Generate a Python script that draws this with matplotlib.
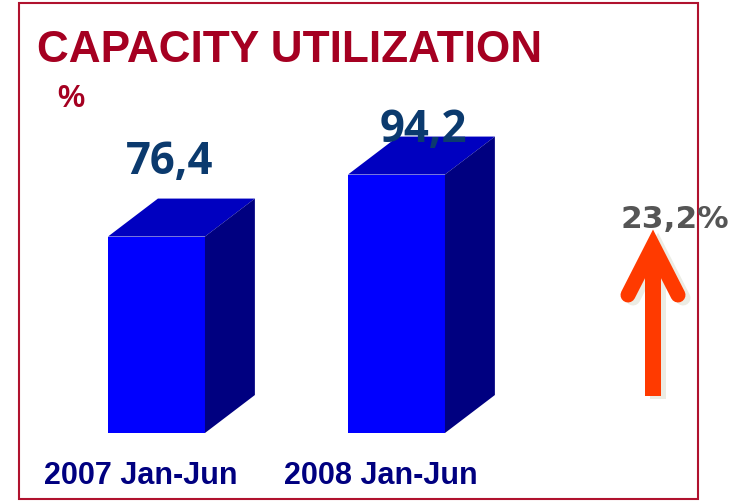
import matplotlib

matplotlib.use("Agg")
import matplotlib.pyplot as plt
from matplotlib.patches import Polygon, Rectangle

# data
periods = ["2007 Jan-Jun", "2008 Jan-Jun"]
utilization = [76.4, 94.2]
value_labels = ["76,4", "94,2"]
growth_label = "23,2%"

# style / geometry
BASE = 20.0            # value axis starts above zero, as in the original
BAR_W = 0.404
DEPTH_X = 0.208
DEPTH_Y = 10.9
LABEL_LIFT = [18.2, 9.6]
LABEL_SHIFT = [0.056, 0.113]
FRONT = "#0000FF"
TOP = "#0000C0"
SIDE = "#000080"
RED = "#A50021"
NAVY = "#0B3A6E"

W, H = 735, 502
fig = plt.figure(figsize=(W / 100, H / 100), dpi=100)
fig.patch.set_facecolor("white")

ax = fig.add_axes([36 / W, 68 / H, 660 / W, 313.5 / H])
ax.set_xlim(-0.502, 2.248)
ax.set_ylim(BASE, 110)
ax.axis("off")

for i, (v, lab) in enumerate(zip(utilization, value_labels)):
    x0 = i - BAR_W / 2
    x1 = i + BAR_W / 2
    ax.add_patch(Rectangle((x0, BASE), BAR_W, v - BASE, facecolor=FRONT,
                           edgecolor="none", clip_on=False))
    ax.add_patch(Polygon([(x0, v), (x0 + DEPTH_X, v + DEPTH_Y),
                          (x1 + DEPTH_X, v + DEPTH_Y), (x1, v)],
                         closed=True, facecolor=TOP, edgecolor="none", clip_on=False))
    ax.add_patch(Polygon([(x1, BASE), (x1, v), (x1 + DEPTH_X, v + DEPTH_Y),
                          (x1 + DEPTH_X, BASE + DEPTH_Y)],
                         closed=True, facecolor=SIDE, edgecolor="none", clip_on=False))
    ax.text(i + LABEL_SHIFT[i], v + LABEL_LIFT[i], lab, ha="center", va="baseline",
            fontsize=31.5, fontweight="bold", color=NAVY,
            family=["Open Sans", "DejaVu Sans"], clip_on=False)
    ax.text(i - 0.067, 5.6, periods[i], ha="center", va="baseline",
            fontsize=22, fontweight="bold", color="#000080",
            family=["Liberation Sans", "DejaVu Sans"], clip_on=False)

# overlay in pixel space for frame and arrow
ov = fig.add_axes([0, 0, 1, 1], zorder=-1)
ov.set_xlim(0, W)
ov.set_ylim(H, 0)
ov.axis("off")
ov.add_patch(Rectangle((19, 4), 679, 496, facecolor="none",
                       edgecolor="#B0122E", linewidth=1.5))

ov2 = fig.add_axes([0, 0, 1, 1], zorder=3)
ov2.set_xlim(0, W)
ov2.set_ylim(H, 0)
ov2.axis("off")
lw = 15 * 0.72
for dx, dy, col in [(5, 3, "#ECECE4"), (0, 0, "#FF3A00")]:
    ov2.plot([653 + dx, 653 + dx], [397 + dy, 250 + dy], color=col,
             linewidth=16 * 0.72, solid_capstyle="butt")
    ov2.plot([628 + dx, 653 + dx, 678 + dx], [296 + dy, 247 + dy, 296 + dy],
             color=col, linewidth=lw, solid_capstyle="round",
             solid_joinstyle="miter")

fig.text(37 / W, 1 - 62 / H, "CAPACITY UTILIZATION", ha="left", va="baseline",
         fontsize=31.8, fontweight="bold", color=RED,
         family=["Liberation Sans", "DejaVu Sans"])
fig.text(57 / W, 1 - 107 / H, "%", ha="left", va="baseline",
         fontsize=22, fontweight="bold", color=RED,
         family=["Liberation Sans", "DejaVu Sans"])
fig.text(674.5 / W, 1 - 228 / H, growth_label, ha="center", va="baseline",
         fontsize=22.5, fontweight="bold", color="#555555",
         family=["DejaVu Sans"], zorder=5)

fig.savefig("out.png", dpi=100, facecolor="white")
